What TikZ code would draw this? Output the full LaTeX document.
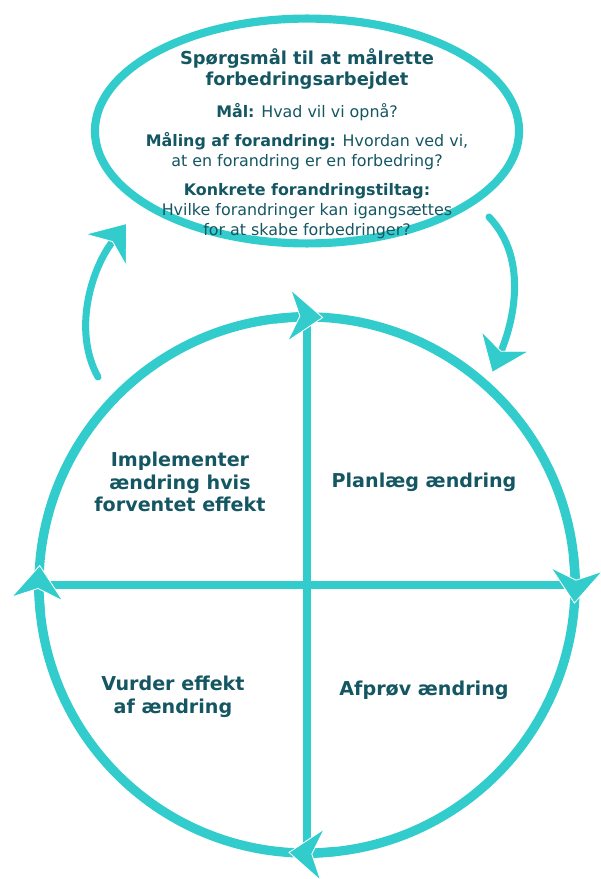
\documentclass[tikz,border=0pt]{standalone}
\usepackage{fontspec}
\setmainfont{DejaVu Sans}
\usepackage{tikz}
\usetikzlibrary{shapes.geometric,arrows.meta,positioning}
\definecolor{turkis}{RGB}{51,204,204}
\definecolor{mork}{RGB}{20,86,98}
\tikzset{
  spids/.style={-{Stealth[length=0.88cm,width=1.35cm,inset=0.28cm,
    fill=turkis,color=white,line width=0.6pt]}},
  titel/.style={font=\bfseries\fontsize{12.7}{15.6}\selectfont,align=center},
  tekst/.style={font=\fontsize{11.3}{14.2}\selectfont,align=center},
  fase/.style={font=\bfseries\fontsize{13.6}{16.2}\selectfont,align=center}
}

\begin{document}
\begin{tikzpicture}[x=0.025cm,y=0.025cm,
  every node/.style={text=mork}]
\useasboundingbox (0,0) rectangle (600,-879);
% spoergsmaal
\node[draw=turkis,line width=5.8pt,ellipse,outer sep=0pt,
  minimum width=10.6cm,minimum height=5.62cm] (maal) at (307,-131) {};
\node[titel] (spm) at (307,-69) {Spørgsmål til at målrette\\forbedringsarbejdet};
\node[tekst] (m1) at (307,-112) {\textbf{Mål:} Hvad vil vi opnå?};
\node[tekst] (m2) at (307,-151) {\textbf{Måling af forandring:} Hvordan ved vi,\\at en forandring er en forbedring?};
\node[tekst] (m3) at (307,-211) {\textbf{Konkrete forandringstiltag:}\\Hvilke forandringer kan igangsættes\\for at skabe forbedringer?};
% hjulet
\node[circle,draw=turkis,line width=6.6pt,outer sep=0pt,
  minimum size=13.4cm] (hjul) at (307,-585) {};
\draw[turkis,line width=6.3pt] (hjul.west) -- (hjul.east);
\draw[turkis,line width=6.3pt] (hjul.north) -- (hjul.south);
\node[fase] (impl) at (180,-482) {Implementer\\ændring hvis\\forventet effekt};
\node[fase] (plan) at (424,-482) {Planlæg ændring};
\node[fase] (vurd) at (173,-697) {Vurder effekt\\af ændring};
\node[fase] (afpr) at (424,-690) {Afprøv ændring};
% pile paa hjulet
\draw[turkis,line width=6.6pt,spids] ([shift={(97:268)}]hjul.center)
  arc[start angle=97,end angle=86.5,radius=268];
\draw[turkis,line width=6.6pt,spids] ([shift={(6:268)}]hjul.center)
  arc[start angle=6,end angle=-4,radius=268];
\draw[turkis,line width=6.6pt,spids] ([shift={(-84:268)}]hjul.center)
  arc[start angle=-84,end angle=-94,radius=268];
\draw[turkis,line width=6.6pt,spids] ([shift={(186:268)}]hjul.center)
  arc[start angle=186,end angle=175.7,radius=268];
% pile mellem hjul og spoergsmaal
\coordinate (op1) at (98,-377);
\coordinate (op2) at (127,-223);
\coordinate (ned1) at (489,-217);
\coordinate (ned2) at (492,-373);
\draw[turkis,line width=5pt,line cap=round,spids]
  (op1) .. controls (72,-330) and (92,-268) .. (op2);
\draw[turkis,line width=5pt,line cap=round,spids]
  (ned1) .. controls (530,-260) and (512,-325) .. (ned2);
\end{tikzpicture}
\end{document}
